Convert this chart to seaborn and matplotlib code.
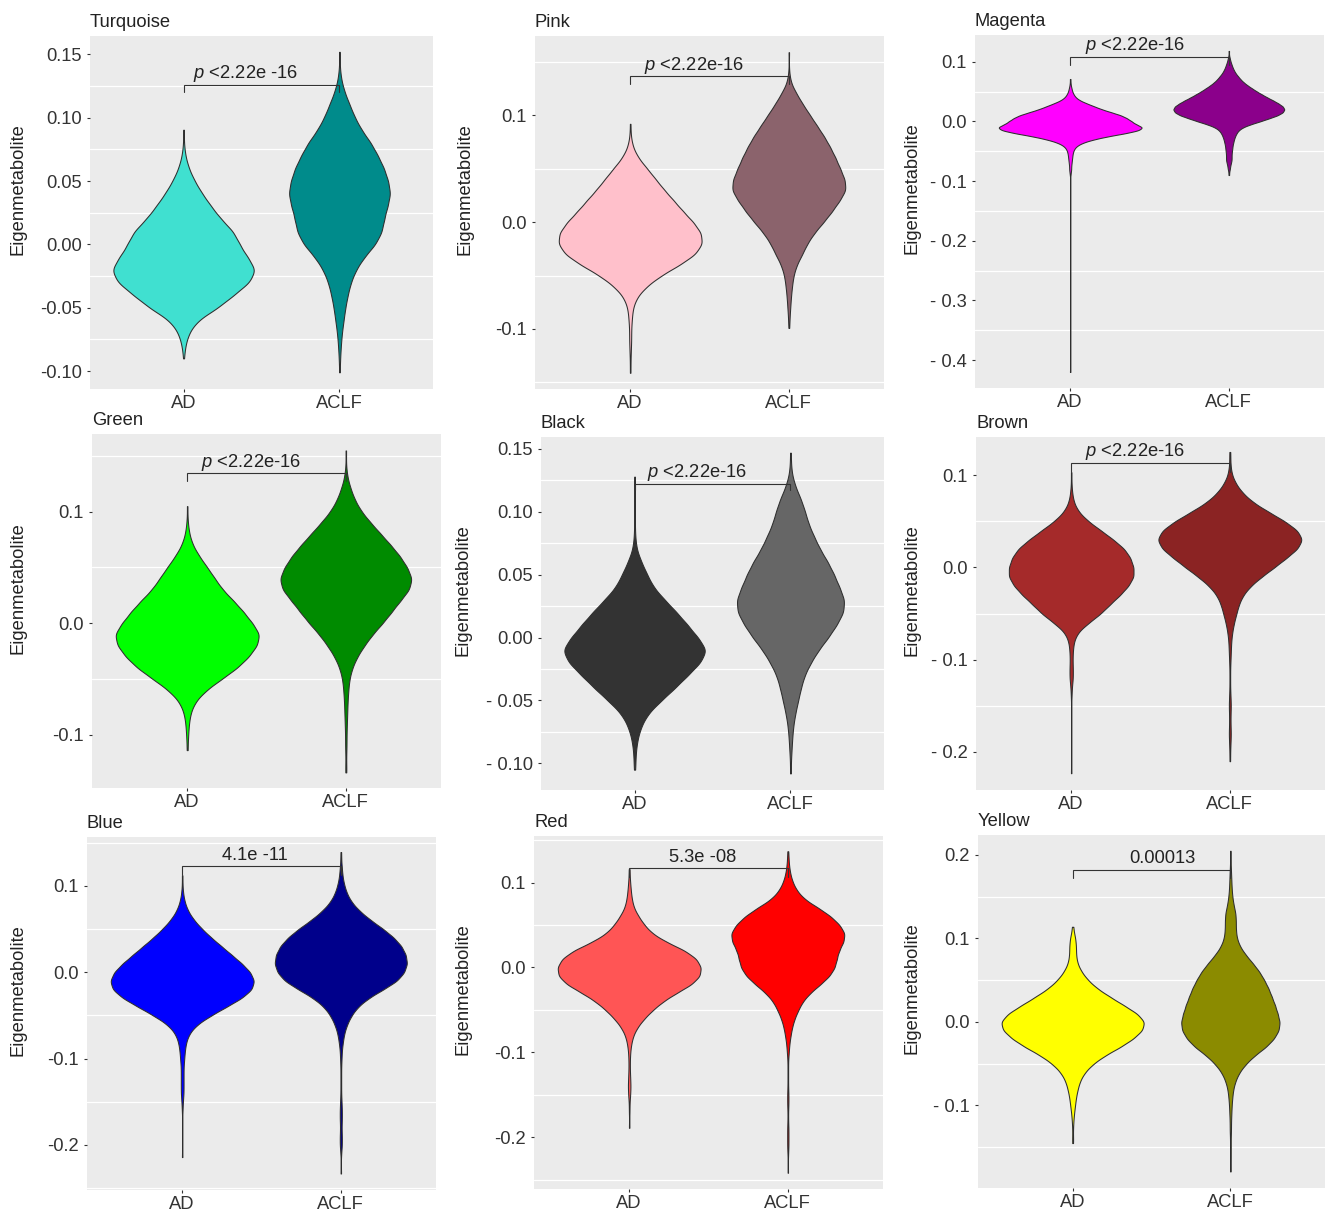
import numpy as np
import pandas as pd
import matplotlib
matplotlib.use("Agg")
import matplotlib.pyplot as plt
import seaborn as sns
from matplotlib.ticker import FixedLocator

# ---------------- data (value level, count) ----------------
GROUPS = ["AD", "ACLF"]

TURQ_AD = [(0.0905, 1), (0.08, 1), (0.07, 5), (0.06, 15), (0.05, 32), (0.04, 54), (0.03, 80), (0.02, 108),
           (0.01, 145), (0.00, 162), (-0.01, 185), (-0.02, 210), (-0.03, 192), (-0.04, 145), (-0.05, 100),
           (-0.06, 40), (-0.07, 15), (-0.08, 5), (-0.09, 1)]
TURQ_ACLF = [(0.152, 1), (0.14, 1), (0.13, 5), (0.12, 15), (0.11, 30), (0.10, 45), (0.09, 65), (0.08, 92),
             (0.07, 112), (0.06, 130), (0.05, 142), (0.04, 149), (0.03, 140), (0.02, 130), (0.01, 124),
             (0.00, 105), (-0.01, 72), (-0.02, 48), (-0.03, 33), (-0.04, 24), (-0.05, 17), (-0.06, 12),
             (-0.07, 7), (-0.08, 4), (-0.09, 2), (-0.101, 1)]

PINK_AD = [(0.092, 1), (0.08, 2), (0.07, 8), (0.06, 24), (0.05, 50), (0.04, 75), (0.03, 100), (0.02, 128),
           (0.01, 155), (0.00, 185), (-0.01, 208), (-0.02, 212), (-0.03, 192), (-0.04, 145), (-0.05, 90),
           (-0.06, 48), (-0.07, 20), (-0.08, 8), (-0.09, 5), (-0.10, 3), (-0.11, 3), (-0.12, 2), (-0.13, 1),
           (-0.141, 1)]
PINK_ACLF = [(0.159, 1), (0.14, 1), (0.13, 6), (0.12, 22), (0.11, 40), (0.10, 60), (0.09, 80), (0.08, 100),
             (0.07, 117), (0.06, 132), (0.05, 145), (0.04, 158), (0.03, 162), (0.02, 143), (0.01, 122),
             (0.00, 98), (-0.01, 72), (-0.02, 52), (-0.03, 38), (-0.04, 22), (-0.05, 13), (-0.06, 9),
             (-0.07, 6), (-0.08, 4), (-0.09, 2), (-0.099, 1)]

MAGENTA_AD = [(0.071, 1), (0.065, 1), (0.06, 2), (0.055, 4), (0.05, 6), (0.045, 10), (0.04, 16), (0.035, 28),
              (0.03, 48), (0.025, 70), (0.02, 92), (0.015, 120), (0.01, 148), (0.005, 165), (0.0, 178),
              (-0.005, 190), (-0.01, 212), (-0.015, 200), (-0.02, 160), (-0.025, 110), (-0.03, 70),
              (-0.035, 40), (-0.04, 22), (-0.045, 13), (-0.05, 9), (-0.055, 7), (-0.06, 6), (-0.065, 5),
              (-0.07, 4), (-0.075, 3), (-0.08, 3), (-0.085, 2), (-0.09, 1), (-0.42, 1)]
MAGENTA_ACLF = [(0.118, 1), (0.11, 1), (0.105, 3), (0.10, 5), (0.095, 8), (0.09, 11), (0.085, 15), (0.08, 20),
                (0.075, 27), (0.07, 34), (0.065, 43), (0.06, 54), (0.055, 67), (0.05, 80), (0.045, 95),
                (0.04, 110), (0.035, 127), (0.03, 142), (0.025, 155), (0.02, 160), (0.015, 155), (0.01, 140),
                (0.005, 115), (0.0, 90), (-0.005, 62), (-0.01, 40), (-0.015, 28), (-0.02, 22), (-0.025, 18),
                (-0.03, 15), (-0.035, 13), (-0.04, 11), (-0.045, 10), (-0.05, 9), (-0.055, 8), (-0.06, 8),
                (-0.065, 8), (-0.07, 6), (-0.075, 4), (-0.08, 3), (-0.085, 1), (-0.09, 1)]

GREEN_AD = [(0.105, 1), (0.09, 2), (0.08, 6), (0.07, 16), (0.06, 35), (0.05, 58), (0.04, 80), (0.03, 102),
            (0.02, 134), (0.01, 163), (0.00, 188), (-0.01, 210), (-0.02, 202), (-0.03, 178), (-0.04, 145),
            (-0.05, 100), (-0.06, 55), (-0.07, 24), (-0.08, 10), (-0.09, 5), (-0.10, 3), (-0.11, 1), (-0.114, 1)]
GREEN_ACLF = [(0.155, 1), (0.14, 1), (0.13, 5), (0.12, 14), (0.11, 26), (0.10, 44), (0.09, 70), (0.08, 98),
              (0.07, 126), (0.06, 152), (0.05, 172), (0.04, 186), (0.03, 178), (0.02, 152), (0.01, 128),
              (0.00, 103), (-0.01, 75), (-0.02, 52), (-0.03, 32), (-0.04, 18), (-0.05, 10), (-0.06, 7),
              (-0.07, 5), (-0.08, 4), (-0.09, 3), (-0.10, 2), (-0.11, 2), (-0.12, 1), (-0.13, 1), (-0.134, 1)]

BLACK_AD = [(0.128, 1), (0.11, 1), (0.10, 1), (0.09, 1), (0.08, 2), (0.07, 6), (0.06, 20), (0.05, 37),
            (0.04, 55), (0.03, 88), (0.02, 123), (0.01, 155), (0.00, 185), (-0.01, 212), (-0.02, 192),
            (-0.03, 155), (-0.04, 118), (-0.05, 78), (-0.06, 40), (-0.07, 20), (-0.08, 9), (-0.09, 4),
            (-0.10, 2), (-0.105, 1)]
BLACK_ACLF = [(0.147, 1), (0.14, 1), (0.13, 4), (0.12, 14), (0.11, 30), (0.10, 42), (0.09, 52), (0.08, 68),
              (0.07, 85), (0.06, 107), (0.05, 125), (0.04, 140), (0.03, 155), (0.02, 152), (0.01, 132),
              (0.00, 108), (-0.01, 80), (-0.02, 58), (-0.03, 40), (-0.04, 30), (-0.05, 22), (-0.06, 14),
              (-0.07, 8), (-0.08, 5), (-0.09, 3), (-0.10, 1), (-0.108, 1)]

BROWN_AD = [(0.103, 1), (0.09, 1), (0.08, 3), (0.07, 8), (0.06, 22), (0.05, 50), (0.04, 88), (0.03, 125),
            (0.02, 158), (0.01, 176), (0.00, 185), (-0.01, 186), (-0.02, 170), (-0.03, 145), (-0.04, 115),
            (-0.05, 88), (-0.06, 52), (-0.07, 20), (-0.08, 8), (-0.09, 5), (-0.10, 4), (-0.11, 5), (-0.12, 5),
            (-0.13, 2), (-0.14, 1), (-0.223, 1)]
BROWN_ACLF = [(0.125, 1), (0.12, 1), (0.11, 2), (0.10, 6), (0.09, 18), (0.08, 38), (0.07, 68), (0.06, 112),
              (0.05, 158), (0.04, 195), (0.03, 210), (0.02, 195), (0.01, 162), (0.00, 128), (-0.01, 92),
              (-0.02, 60), (-0.03, 38), (-0.04, 26), (-0.05, 19), (-0.06, 12), (-0.07, 7), (-0.08, 4),
              (-0.09, 3), (-0.10, 2), (-0.11, 1), (-0.12, 1), (-0.13, 1), (-0.14, 2), (-0.15, 3), (-0.16, 2),
              (-0.17, 2), (-0.18, 3), (-0.19, 2), (-0.20, 1), (-0.21, 1)]

BLUE_AD = [(0.112, 1), (0.10, 1), (0.09, 3), (0.08, 8), (0.07, 18), (0.06, 35), (0.05, 58), (0.04, 85),
           (0.03, 115), (0.02, 145), (0.01, 175), (0.00, 200), (-0.01, 212), (-0.02, 205), (-0.03, 175),
           (-0.04, 130), (-0.05, 85), (-0.06, 45), (-0.07, 22), (-0.08, 12), (-0.09, 8), (-0.10, 6),
           (-0.11, 4), (-0.12, 4), (-0.13, 4), (-0.14, 4), (-0.15, 2), (-0.16, 1), (-0.214, 1)]
BLUE_ACLF = [(0.139, 1), (0.13, 1), (0.12, 3), (0.11, 5), (0.10, 10), (0.09, 18), (0.08, 32), (0.07, 55),
             (0.06, 85), (0.05, 120), (0.04, 150), (0.03, 172), (0.02, 184), (0.01, 188), (0.00, 180),
             (-0.01, 160), (-0.02, 120), (-0.03, 78), (-0.04, 48), (-0.05, 30), (-0.06, 18), (-0.07, 10),
             (-0.08, 6), (-0.09, 3), (-0.10, 2), (-0.11, 1), (-0.12, 1), (-0.13, 1), (-0.14, 1), (-0.15, 2),
             (-0.16, 3), (-0.17, 3), (-0.18, 2), (-0.19, 3), (-0.20, 3), (-0.21, 1), (-0.233, 1)]

RED_AD = [(0.116, 1), (0.11, 1), (0.10, 3), (0.09, 5), (0.08, 8), (0.07, 14), (0.06, 28), (0.05, 45),
          (0.04, 68), (0.03, 110), (0.02, 165), (0.01, 200), (0.00, 213), (-0.01, 210), (-0.02, 185),
          (-0.03, 140), (-0.04, 100), (-0.05, 70), (-0.06, 45), (-0.07, 25), (-0.08, 12), (-0.09, 6),
          (-0.10, 3), (-0.11, 2), (-0.12, 2), (-0.13, 3), (-0.14, 4), (-0.15, 3), (-0.16, 1), (-0.17, 1),
          (-0.189, 1)]
RED_ACLF = [(0.137, 1), (0.13, 2), (0.12, 4), (0.11, 8), (0.10, 16), (0.09, 30), (0.08, 55), (0.07, 100),
            (0.06, 140), (0.05, 168), (0.04, 185), (0.03, 180), (0.02, 165), (0.01, 158), (0.00, 152),
            (-0.01, 135), (-0.02, 105), (-0.03, 72), (-0.04, 48), (-0.05, 34), (-0.06, 22), (-0.07, 14),
            (-0.08, 9), (-0.09, 5), (-0.10, 3), (-0.11, 1), (-0.12, 1), (-0.13, 1), (-0.14, 1), (-0.15, 2),
            (-0.16, 2), (-0.17, 1), (-0.18, 1), (-0.19, 2), (-0.20, 2), (-0.21, 2), (-0.22, 1), (-0.242, 1)]

YELLOW_AD = [(0.114, 1), (0.11, 2), (0.10, 8), (0.09, 10), (0.08, 10), (0.07, 14), (0.06, 26), (0.05, 45),
             (0.04, 72), (0.03, 110), (0.02, 150), (0.01, 190), (0.00, 212), (-0.01, 205), (-0.02, 178),
             (-0.03, 140), (-0.04, 95), (-0.05, 60), (-0.06, 36), (-0.07, 22), (-0.08, 15), (-0.09, 10),
             (-0.10, 7), (-0.11, 4), (-0.12, 2), (-0.13, 1), (-0.14, 1), (-0.145, 1)]
YELLOW_ACLF = [(0.205, 1), (0.19, 1), (0.18, 2), (0.17, 3), (0.16, 4), (0.15, 6), (0.14, 10), (0.13, 16),
               (0.12, 17), (0.11, 17), (0.10, 20), (0.09, 30), (0.08, 48), (0.07, 70), (0.06, 90), (0.05, 105),
               (0.04, 118), (0.03, 128), (0.02, 138), (0.01, 146), (0.00, 153), (-0.01, 150), (-0.02, 135),
               (-0.03, 110), (-0.04, 75), (-0.05, 48), (-0.06, 28), (-0.07, 16), (-0.08, 9), (-0.09, 6),
               (-0.10, 4), (-0.11, 3), (-0.12, 2), (-0.13, 2), (-0.14, 1), (-0.15, 1), (-0.16, 1), (-0.179, 1)]

TITLES = ["Turquoise", "Pink", "Magenta", "Green", "Black", "Brown", "Blue", "Red", "Yellow"]
AD_DATA = [TURQ_AD, PINK_AD, MAGENTA_AD, GREEN_AD, BLACK_AD, BROWN_AD, BLUE_AD, RED_AD, YELLOW_AD]
ACLF_DATA = [TURQ_ACLF, PINK_ACLF, MAGENTA_ACLF, GREEN_ACLF, BLACK_ACLF, BROWN_ACLF, BLUE_ACLF, RED_ACLF,
             YELLOW_ACLF]
P_LABELS = ["$p$ <2.22e -16", "$p$ <2.22e-16", "$p$ <2.22e-16", "$p$ <2.22e-16", "$p$ <2.22e-16",
            "$p$ <2.22e-16", "4.1e -11", "5.3e -08", "0.00013"]
Y_TICKS = [[-0.10, -0.05, 0.0, 0.05, 0.10, 0.15], [-0.1, 0.0, 0.1], [-0.4, -0.3, -0.2, -0.1, 0.0, 0.1],
           [-0.1, 0.0, 0.1], [-0.10, -0.05, 0.0, 0.05, 0.10, 0.15], [-0.2, -0.1, 0.0, 0.1],
           [-0.2, -0.1, 0.0, 0.1], [-0.2, -0.1, 0.0, 0.1], [-0.1, 0.0, 0.1, 0.2]]
Y_TICK_LABELS = [["-0.10", "-0.05", "0.00", "0.05", "0.10", "0.15"], ["-0.1", "0.0", "0.1"],
                 ["- 0.4", "- 0.3", "- 0.2", "- 0.1", "0.0", "0.1"], ["-0.1", "0.0", "0.1"],
                 ["- 0.10", "- 0.05", "0.00", "0.05", "0.10", "0.15"], ["- 0.2", "- 0.1", "0.0", "0.1"],
                 ["-0.2", "-0.1", "0.0", "0.1"], ["-0.2", "-0.1", "0.0", "0.1"], ["- 0.1", "0.0", "0.1", "0.2"]]

# ---------------- styles ----------------
AD_COLORS = ["#40E0D0", "#FFC0CB", "#FF00FF", "#00FF00", "#333333", "#A52A2A", "#0000FF", "#FF5555", "#FFFF00"]
ACLF_COLORS = ["#008B8B", "#8B636C", "#8B008B", "#008B00", "#666666", "#8B2323", "#00008B", "#FF0000", "#8B8B00"]
BANDWIDTH = [0.006, 0.006, 0.003, 0.006, 0.006, 0.006, 0.006, 0.006, 0.006]

# ---------------- layout (pixels) ----------------
W, H = 1325, 1212
BOXES = [(90, 36, 433, 389), (535, 36, 884, 389), (975, 35, 1324, 388),
         (92, 434, 441, 788), (541, 437, 884, 790), (976, 437, 1325, 790),
         (87, 837, 436, 1190), (534, 836, 883, 1189), (978, 835, 1325, 1188)]
Y_LIMS = [(-0.1142, 0.1645), (-0.1562, 0.1742), (-0.4469, 0.1447), (-0.148, 0.1698), (-0.1212, 0.1595),
          (-0.2412, 0.1412), (-0.2521, 0.1564), (-0.2612, 0.155), (-0.1988, 0.2239)]
MINORS = [[-0.075, -0.025, 0.025, 0.075, 0.125], [-0.15, -0.05, 0.05, 0.15],
          [-0.35, -0.25, -0.15, -0.05, 0.05], [-0.05, 0.05, 0.15], [-0.075, -0.025, 0.025, 0.075, 0.125],
          [-0.15, -0.05, 0.05], [-0.25, -0.15, -0.05, 0.05, 0.15], [-0.25, -0.15, -0.05, 0.05, 0.15],
          [-0.15, -0.05, 0.05, 0.15]]
YLABEL_X = [18, 465, 912, 18, 463, 912, 18, 463, 912]
BRACKET_Y = [0.1259, 0.1364, 0.1084, 0.1344, 0.122, 0.113, 0.1224, 0.117, 0.1823]
TIP = [0.0053, 0.0072, 0.014, 0.0066, 0.005, 0.01, 0.01, 0.01, 0.01]
TEXT_X = [0.40, 0.40, 0.41, 0.40, 0.40, 0.40, 0.46, 0.46, 0.57]

sns.set_theme(style="darkgrid")
plt.rcParams["font.family"] = ["Liberation Sans", "DejaVu Sans"]
plt.rcParams["mathtext.fontset"] = "custom"
plt.rcParams["mathtext.it"] = "Liberation Sans:italic"
plt.rcParams["mathtext.rm"] = "Liberation Sans"

FS = 13.2
fig = plt.figure(figsize=(W / 100, H / 100), dpi=100)
fig.patch.set_facecolor("white")


def expand(pairs):
    return np.repeat([v for v, _ in pairs], [c for _, c in pairs])


for i in range(9):
    l, t, r, b = BOXES[i]
    ax = fig.add_axes([l / W, 1 - b / H, (r - l) / W, (b - t) / H])
    ad = expand(AD_DATA[i])
    aclf = expand(ACLF_DATA[i])
    df = pd.DataFrame({"group": ["AD"] * len(ad) + ["ACLF"] * len(aclf),
                       "value": np.concatenate([ad, aclf])})
    bw = BANDWIDTH[i]
    sns.violinplot(data=df, x="group", y="value", hue="group", order=GROUPS, hue_order=GROUPS,
                   palette={"AD": AD_COLORS[i], "ACLF": ACLF_COLORS[i]}, saturation=1,
                   cut=0, density_norm="area", common_norm=True, inner=None, width=0.9,
                   bw_method=lambda k, bw=bw: bw / np.std(k.dataset, ddof=1), gridsize=500,
                   linewidth=0.75, linecolor="#2e2e2e", legend=False, ax=ax)
    ax.set_facecolor("#EBEBEB")
    for s in ax.spines.values():
        s.set_visible(False)
    ax.set_xlim(-0.6, 1.6)
    ax.set_ylim(*Y_LIMS[i])
    ax.set_yticks(Y_TICKS[i])
    ax.set_yticklabels(Y_TICK_LABELS[i])
    ax.yaxis.set_minor_locator(FixedLocator(MINORS[i]))
    ax.grid(False)
    ax.grid(True, which="minor", axis="y", color="white", linewidth=0.9)
    ax.set_axisbelow(True)
    ax.tick_params(which="minor", length=0)
    ax.tick_params(which="major", length=2.5, width=0.8, color="#333333", labelsize=FS,
                   labelcolor="#333333", pad=3.5, left=True, bottom=True)
    ax.tick_params(axis="x", pad=1.6)
    ax.set_xlabel("")
    ax.set_ylabel("")
    ax.set_title(TITLES[i], loc="left", pad=6.7, fontsize=FS, color="#222222")

    yb = BRACKET_Y[i]
    ax.plot([0, 0, 1, 1], [yb - TIP[i], yb, yb, yb - TIP[i]], color="#333333", lw=0.8, zorder=5,
            solid_joinstyle="miter")
    ax.annotate(P_LABELS[i], xy=(TEXT_X[i], yb), xytext=(0, 4.8), textcoords="offset points",
                ha="center", va="baseline", fontsize=FS, color="#222222")

    fig.text(YLABEL_X[i] / W, 1 - ((t + b) / 2 - 23) / H, "Eigenmetabolite", rotation=90,
             ha="center", va="center", fontsize=FS, color="#222222")

fig.savefig("out.png", dpi=100)
